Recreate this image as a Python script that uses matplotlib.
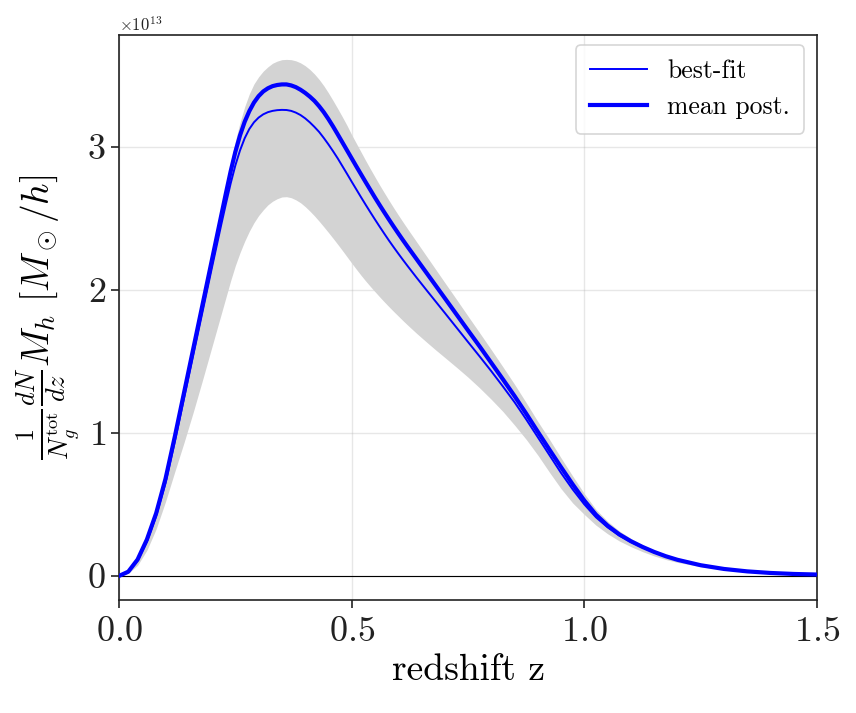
import numpy as np
import matplotlib
matplotlib.use("Agg")
import matplotlib.pyplot as plt

plt.rcParams['font.family'] = ['cmr10', 'DejaVu Serif']
plt.rcParams['mathtext.fontset'] = 'cm'
plt.rcParams['axes.formatter.use_mathtext'] = True
plt.rcParams['axes.unicode_minus'] = False

SCALE = 1e13

redshift = [0.00, 0.02, 0.04, 0.06, 0.08, 0.10, 0.12, 0.14, 0.16, 0.18, 0.20,
            0.21, 0.22, 0.23, 0.24, 0.25, 0.26, 0.27, 0.28, 0.29, 0.30,
            0.31, 0.32, 0.33, 0.34, 0.35, 0.36, 0.37, 0.38, 0.39, 0.40,
            0.41, 0.42, 0.43, 0.44, 0.45, 0.46, 0.47, 0.48, 0.49, 0.50,
            0.51, 0.52, 0.53, 0.54, 0.55, 0.56, 0.57, 0.58, 0.59, 0.60,
            0.61, 0.62, 0.64, 0.66, 0.68, 0.70,
            0.725, 0.75, 0.775, 0.80, 0.825, 0.85, 0.875, 0.90, 0.925, 0.95,
            0.975, 1.00, 1.025, 1.05, 1.075, 1.10, 1.125, 1.15, 1.175, 1.20,
            1.25, 1.30, 1.35, 1.40, 1.45, 1.50]

mean_post = [0.000, 0.030, 0.115, 0.255, 0.440, 0.680, 0.975, 1.285, 1.595, 1.905, 2.215,
             2.370, 2.525, 2.680, 2.830, 2.965, 3.080, 3.175, 3.250, 3.310, 3.355,
             3.388, 3.410, 3.425, 3.433, 3.437, 3.437, 3.430, 3.418, 3.400, 3.378,
             3.352, 3.322, 3.285, 3.243, 3.195, 3.143, 3.088, 3.032, 2.976, 2.920,
             2.864, 2.809, 2.754, 2.700, 2.646, 2.594, 2.543, 2.493, 2.444, 2.396,
             2.349, 2.303, 2.213, 2.123, 2.033, 1.943,
             1.830, 1.717, 1.605, 1.490, 1.375, 1.258, 1.135, 1.008, 0.883, 0.760,
             0.640, 0.527, 0.428, 0.352, 0.291, 0.243, 0.203, 0.168, 0.138, 0.113,
             0.075, 0.049, 0.032, 0.021, 0.014, 0.010]

best_fit = [0.000, 0.028, 0.108, 0.240, 0.420, 0.650, 0.940, 1.245, 1.550, 1.855, 2.160,
            2.310, 2.460, 2.605, 2.745, 2.870, 2.975, 3.060, 3.125, 3.172, 3.205,
            3.228, 3.243, 3.252, 3.257, 3.259, 3.258, 3.252, 3.240, 3.223, 3.200,
            3.172, 3.140, 3.105, 3.063, 3.018, 2.970, 2.920, 2.866, 2.812, 2.757,
            2.703, 2.649, 2.596, 2.544, 2.493, 2.443, 2.394, 2.346, 2.300, 2.255,
            2.211, 2.168, 2.084, 2.002, 1.921, 1.840,
            1.738, 1.636, 1.535, 1.432, 1.325, 1.215, 1.095, 0.970, 0.845, 0.720,
            0.605, 0.500, 0.410, 0.340, 0.283, 0.238, 0.200, 0.165, 0.136, 0.112,
            0.075, 0.049, 0.032, 0.021, 0.014, 0.010]

band_upper = [0.000, 0.035, 0.125, 0.270, 0.460, 0.710, 1.010, 1.325, 1.640, 1.955, 2.270,
              2.425, 2.580, 2.735, 2.890, 3.040, 3.170, 3.280, 3.370, 3.440, 3.490,
              3.530, 3.560, 3.585, 3.600, 3.610, 3.612, 3.610, 3.602, 3.588, 3.568,
              3.542, 3.510, 3.472, 3.428, 3.378, 3.324, 3.268, 3.210, 3.150, 3.085,
              3.025, 2.965, 2.905, 2.847, 2.790, 2.734, 2.680, 2.627, 2.575, 2.525,
              2.476, 2.428, 2.334, 2.240, 2.146, 2.052,
              1.935, 1.817, 1.700, 1.582, 1.462, 1.340, 1.212, 1.080, 0.955, 0.825,
              0.698, 0.575, 0.465, 0.382, 0.315, 0.262, 0.217, 0.178, 0.146, 0.119,
              0.079, 0.051, 0.033, 0.022, 0.015, 0.011]

band_lower = [0.000, 0.018, 0.075, 0.180, 0.330, 0.520, 0.730, 0.935, 1.150, 1.375, 1.605,
              1.720, 1.835, 1.950, 2.065, 2.170, 2.260, 2.340, 2.410, 2.470, 2.520,
              2.560, 2.595, 2.620, 2.638, 2.650, 2.652, 2.645, 2.630, 2.610, 2.583,
              2.552, 2.518, 2.481, 2.442, 2.402, 2.361, 2.319, 2.276, 2.232, 2.188,
              2.145, 2.103, 2.063, 2.025, 1.988, 1.952, 1.917, 1.883, 1.850, 1.818,
              1.786, 1.755, 1.695, 1.638, 1.582, 1.528,
              1.460, 1.390, 1.315, 1.235, 1.150, 1.055, 0.955, 0.845, 0.725, 0.610,
              0.510, 0.430, 0.355, 0.295, 0.245, 0.205, 0.170, 0.140, 0.115, 0.095,
              0.065, 0.043, 0.028, 0.019, 0.013, 0.009]

z = np.array(redshift)
mp = np.array(mean_post) * SCALE
bf = np.array(best_fit) * SCALE
up = np.array(band_upper) * SCALE
lo = np.array(band_lower) * SCALE

fig = plt.figure(figsize=(8.56, 7.13), dpi=100)
ax = fig.add_axes([0.139, 0.1585, 0.8155, 0.7925])

ax.fill_between(z, lo, up, color='lightgray', linewidth=0, zorder=1)
ax.plot(z, bf, color='blue', lw=1.4, label='best-fit', zorder=3,
        solid_joinstyle='round')
ax.plot(z, mp, color='blue', lw=3.0, label='mean post.', zorder=3,
        solid_joinstyle='round')
ax.axhline(0, color='black', lw=0.8, zorder=2)

ax.set_xlim(0, 1.5)
ax.set_ylim(-0.168 * SCALE, 3.783 * SCALE)
ax.set_xticks([0.0, 0.5, 1.0, 1.5])
ax.set_yticks(np.array([0, 1, 2, 3]) * SCALE)
ax.grid(True, color='#b0b0b0', alpha=0.3, lw=1.0)
ax.set_axisbelow(True)

ax.tick_params(labelsize=26, length=6, width=1.2, colors='#222222')
ax.xaxis.set_tick_params(pad=6)
ax.yaxis.get_offset_text().set_fontsize(12)
for sp in ax.spines.values():
    sp.set_linewidth(1.2)
    sp.set_color('#222222')

ax.set_xlabel('redshift z', fontsize=27, labelpad=4)
ax.set_ylabel(r'$\frac{1}{N_g^{\rm tot}}\frac{dN}{dz}M_h\ [M_\odot/h]$', fontsize=27, labelpad=4)

leg = ax.legend(loc='upper right', fontsize=18.5, frameon=True, fancybox=True,
                borderpad=0.55, handlelength=2.2, labelspacing=0.5,
                bbox_to_anchor=(1.0, 1.005))
leg.get_frame().set_edgecolor('#cccccc')
leg.get_frame().set_linewidth(1.2)

fig.savefig('out.png', dpi=100)
